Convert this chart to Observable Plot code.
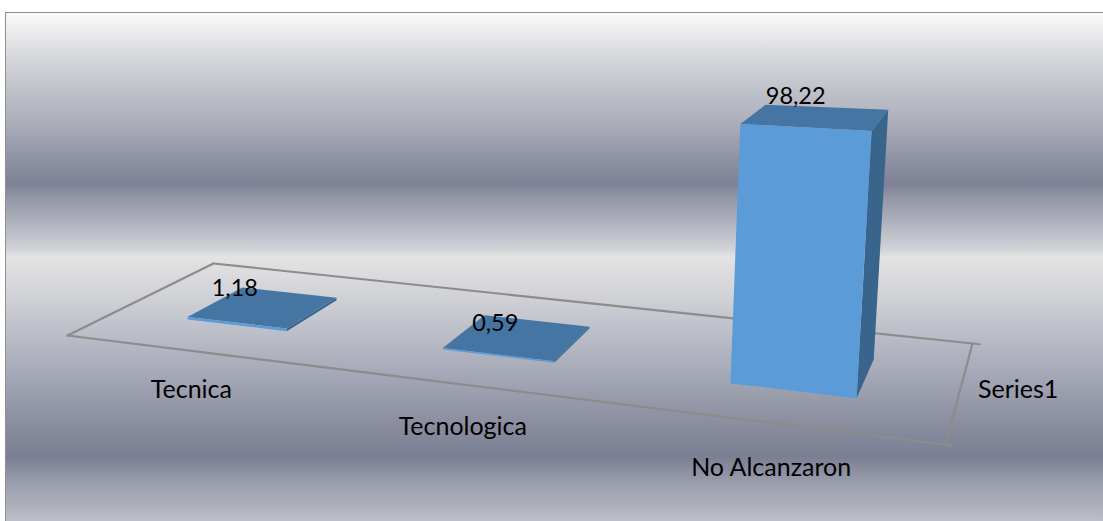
<!DOCTYPE html>
<html><head><meta charset="utf-8">
<script src="https://cdn.jsdelivr.net/npm/d3@7"></script>
<script src="https://cdn.jsdelivr.net/npm/@observablehq/plot@0.6"></script>
<style>
html,body{margin:0;padding:0;background:#fff;overflow:hidden}
#panel{position:absolute;left:5px;top:12px;width:1098px;height:509px;box-sizing:border-box;border-left:1.5px solid #8e8e8e;border-top:1.5px solid #8e8e8e;
background:linear-gradient(to bottom,#fbfbfb 0px,#dcdde0 37px,#c4c6cd 70px,#afb1bd 105px,#9598a8 138px,#7e8195 171px,#959aa8 187px,#a9acb8 204px,#bdbfc8 220px,#d3d4d9 237px,#e3e3e4 244px,#cfd0d5 287px,#bcbec8 320px,#a9acb9 354px,#979aa9 387px,#85899b 420px,#7b7f93 444px,#9a9dac 470px,#bcbec8 508px)}
#chart{position:absolute;left:0;top:0}
</style></head><body>
<div id="panel"></div><div id="chart"></div>
<script>
const categories = ["Tecnica", "Tecnologica", "No Alcanzaron"];
const values = [1.18, 0.59, 98.22];
const valueLabels = ["1,18", "0,59", "98,22"];
const seriesName = ["Series1"];

// Perspective camera of the 3-D chart: floor corners and vertical vanishing point
const floorFront = [[67, 335], [945, 444]];
const floorBack = [[213, 263], [972, 343]];
const vanish = [456, 7541];
const barSpan = 0.402, depthFront = 0.305, depthBack = 0.706;
const labelShift = [[-28, -19], [-22, -14.5], [-20, -20]];

function makeFloor([p00, p10], [p01, p11]) {
  const sx = p00[0] - p10[0] + p11[0] - p01[0], sy = p00[1] - p10[1] + p11[1] - p01[1];
  const dx1 = p10[0] - p11[0], dx2 = p01[0] - p11[0], dy1 = p10[1] - p11[1], dy2 = p01[1] - p11[1];
  const den = dx1 * dy2 - dx2 * dy1;
  const g = (sx * dy2 - dx2 * sy) / den, h = (dx1 * sy - sx * dy1) / den;
  return (u, d) => {
    const w = 1 + g * u + h * d;
    return [
      ((p10[0] - p00[0] + g * p10[0]) * u + (p01[0] - p00[0] + h * p01[0]) * d + p00[0]) / w,
      ((p10[1] - p00[1] + g * p10[1]) * u + (p01[1] - p00[1] + h * p01[1]) * d + p00[1]) / w
    ];
  };
}
const floor = makeFloor(floorFront, floorBack);
function project(u, d, v = 0) {
  const [x, y] = floor(u - 0.018 * u * (1 - u), d);
  const k = (0.000375 - 0.000027 * (d - depthFront) / (depthBack - depthFront) + 0.00009 * (u - 5 / 6)) * v;
  return [x + (x - vanish[0]) * k, y + (y - vanish[1]) * k];
}

const center = i => (i + 0.5) / categories.length;
const half = barSpan / categories.length / 2;

const faces = [];
values.forEach((v, i) => {
  const u0 = center(i) - half, u1 = center(i) + half;
  const quad = (name, fill, pts) => pts.forEach(([u, d, h]) => {
    const [x, y] = project(u, d, h);
    faces.push({ id: i + name, fill, x, y });
  });
  quad("side", "#39658c", [[u1, depthFront, 0], [u1, depthBack, 0], [u1, depthBack, v], [u1, depthFront, v]]);
  quad("top", "#4576a3", [[u0, depthFront, v], [u1, depthFront, v], [u1, depthBack, v], [u0, depthBack, v]]);
  quad("front", "#5b9bd8", [[u0, depthFront, 0], [u1, depthFront, 0], [u1, depthFront, v], [u0, depthFront, v]]);
});

const floorEdges = [
  ["back", [[0, 1], [1.008, 1]]],
  ["front", [[0, 0], [1.006, 0]]],
  ["left", [[0, 0], [0, 1]]],
  ["right", [[1, 0], [1, 1]]]
].flatMap(([id, pts]) => pts.map(([u, d]) => {
  const [x, y] = project(u, d);
  return { id, x, y };
}));

const catLabels = categories.map((label, i) => {
  const u = center(i), [x, y] = project(u, 0);
  return { label, x: x - 4 * u, y: y + 38 + 8 * u };
});
const valLabels = valueLabels.map((label, i) => {
  const [x, y] = project(center(i), 0.5, values[i]);
  return { label, x: x + labelShift[i][0], y: y + labelShift[i][1] };
});
const [sx, sy] = project(1, 0.5);

const plot = Plot.plot({
  width: 1103, height: 521,
  margin: 0,
  style: { background: "transparent", fontFamily: "Lato, 'Open Sans', sans-serif" },
  x: { domain: [0, 1103], range: [0, 1103], axis: null },
  y: { domain: [0, 521], range: [0, 521], axis: null },
  marks: [
    Plot.line(floorEdges, { x: "x", y: "y", z: "id", stroke: "#8c8c8c", strokeWidth: 2.2, strokeLinecap: "round" }),
    Plot.line(faces, { x: "x", y: "y", z: "id", fill: "fill", stroke: "none", curve: "linear-closed" }),
    Plot.text(catLabels, { x: "x", y: "y", text: "label", fontSize: 25, fill: "#000" }),
    Plot.text(valLabels, { x: "x", y: "y", text: "label", fontSize: 23.5, fill: "#000" }),
    Plot.text(seriesName, { x: [sx], y: [sy], text: d => d, fontSize: 25, fill: "#000", dx: 58 })
  ]
});
document.getElementById("chart").appendChild(plot);
</script>
</body></html>
